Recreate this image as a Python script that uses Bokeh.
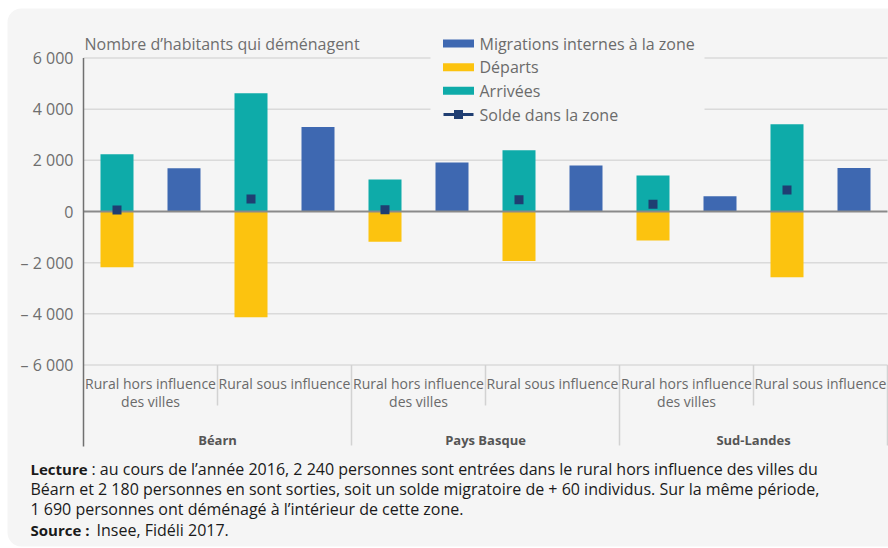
from bokeh.plotting import figure
from bokeh.models import Range1d, BoxAnnotation
from bokeh.core.properties import value
from bokeh.embed import file_html
from bokeh.resources import INLINE

# ---------------- data ----------------
regions = ["Béarn", "Pays Basque", "Sud-Landes"]
zones = ["Rural hors influence\ndes villes", "Rural sous influence"]
arrivees = [2240, 4620, 1250, 2390, 1410, 3410]
departs = [2180, 4130, 1180, 1930, 1130, 2570]
solde = [60, 490, 70, 460, 280, 840]
internes = [1690, 3300, 1920, 1800, 600, 1700]
y_ticks = [6000, 4000, 2000, 0, -2000, -4000, -6000]
y_tick_labels = ["6 000", "4 000", "2 000", "0", "– 2 000", "– 4 000", "– 6 000"]
series_names = ["Migrations internes à la zone", "Départs", "Arrivées", "Solde dans la zone"]
title_text = "Nombre d’habitants qui déménagent"
footer = [
    ("Lecture", ": au cours de l’année 2016, 2 240 personnes sont entrées dans le rural hors influence des villes du"),
    ("", "Béarn et 2 180 personnes en sont sorties, soit un solde migratoire de + 60 individus. Sur la même période,"),
    ("", "1 690 personnes ont déménagé à l’intérieur de cette zone."),
    ("Source :", "Insee, Fidéli 2017."),
]

# ---------------- styles ----------------
C_INT = "#3e68b1"
C_DEP = "#fcc30f"
C_ARR = "#0eaba9"
C_SOL = "#1f3e72"
BG = "#f5f5f5"
FONT = value("Open Sans")

# layout helpers (page pixels -> data units)
W, H = 888, 548
X0, SX = 83.0, 67.0           # page x of x=0, px per slot
Y0, K = 211.0, 307.0 / 12000  # page y of value 0, px per unit


def dx(px):
    return (px - X0) / SX


def dy(py):
    return (Y0 - py) / K


p = figure(width=W, height=H, output_backend="svg", toolbar_location=None,
           x_range=Range1d(dx(0), dx(W)), y_range=Range1d(dy(H), dy(0)),
           x_axis_type=None, y_axis_type=None, min_border=0)
p.grid.visible = False
p.outline_line_color = None
p.background_fill_color = "white"
p.border_fill_color = "white"

p.add_layout(BoxAnnotation(left=dx(7), right=dx(W + 30), top=dy(8), bottom=dy(546),
                           fill_color=BG, fill_alpha=1, line_color=None,
                           border_radius=14, level="underlay"))

n_cat = len(arrivees)
x_end = 2 * n_cat

# gridlines
grid_vals = [v for v in y_ticks if v != 0]
p.segment(x0=[0] * len(grid_vals), x1=[x_end] * len(grid_vals), y0=grid_vals, y1=grid_vals,
          line_color="#dadada", line_width=1.5)

# category separators
short_x = [4 * g + 2 for g in range(len(regions))]
long_x = [4 * (g + 1) for g in range(len(regions))]
p.segment(x0=short_x, x1=short_x, y0=[y_ticks[-1]] * len(short_x), y1=[dy(405)] * len(short_x),
          line_color="#d2d2d2", line_width=1.5)
p.segment(x0=long_x, x1=long_x, y0=[y_ticks[-1]] * len(long_x), y1=[dy(445)] * len(long_x),
          line_color="#d2d2d2", line_width=1.5)

# legend background (masks the gridlines)
p.quad(left=[dx(430)], right=[dx(704)], top=[dy(28)], bottom=[dy(126)],
       fill_color=BG, line_color=None)

# bars
xs_stack = [2 * i + 0.5 for i in range(n_cat)]
xs_int = [2 * i + 1.5 for i in range(n_cat)]
bw = 33 / SX
p.vbar(x=xs_stack, top=arrivees, bottom=0, width=bw, fill_color=C_ARR, line_color=None)
p.vbar(x=xs_stack, top=0, bottom=[-d for d in departs], width=bw, fill_color=C_DEP, line_color=None)
p.vbar(x=xs_int, top=internes, bottom=0, width=bw, fill_color=C_INT, line_color=None)

# zero line and y axis line
p.segment(x0=[0], x1=[x_end], y0=[0], y1=[0], line_color="#8a8a8a", line_width=2)
p.segment(x0=[0], x1=[0], y0=[y_ticks[0]], y1=[dy(446)], line_color="#707070", line_width=1.5)

# solde markers
p.scatter(x=xs_stack, y=solde, marker="square", size=9, fill_color=C_SOL, line_color=None)

# y tick labels
p.text(x=[dx(73)] * len(y_ticks), y=y_ticks, text=y_tick_labels, text_font=FONT,
       text_font_size="16px", text_align="right", text_baseline="middle", text_color="#6e6e6e")

# title
p.text(x=[dx(84)], y=[dy(43)], text=[title_text], text_font=FONT, text_font_size="16px",
       text_align="left", text_baseline="middle", text_color="#6e6e6e")

# category labels
lab_x1, lab_t1, lab_x2, lab_t2 = [], [], [], []
for g in range(len(regions)):
    for z, zl in enumerate(zones):
        c = 2 * g + z
        lines = zl.split("\n")
        lab_x1.append(2 * c + 1)
        lab_t1.append(lines[0])
        if len(lines) > 1:
            lab_x2.append(2 * c + 1)
            lab_t2.append(lines[1])
p.text(x=lab_x1, y=[dy(382.5)] * len(lab_x1), text=lab_t1, text_font=FONT, text_font_size="14px",
       text_align="center", text_baseline="middle", text_color="#6a6a6a")
p.text(x=lab_x2, y=[dy(401.3)] * len(lab_x2), text=lab_t2, text_font=FONT, text_font_size="14px",
       text_align="center", text_baseline="middle", text_color="#6a6a6a")
p.text(x=[4 * g + 2 for g in range(len(regions))], y=[dy(439.5)] * len(regions), text=regions,
       text_font=FONT, text_font_size="13px", text_font_style="bold",
       text_align="center", text_baseline="middle", text_color="#555555")

# legend
leg_y = [dy(43 + 23.67 * i) for i in range(4)]
leg_cols = [C_INT, C_DEP, C_ARR]
p.rect(x=[dx(458)] * 3, y=leg_y[:3], width=31, height=8, width_units="screen", height_units="screen",
       fill_color=leg_cols, line_color=None)
p.segment(x0=[dx(443)], x1=[dx(473)], y0=[leg_y[3]], y1=[leg_y[3]], line_color=C_SOL, line_width=3)
p.scatter(x=[dx(458)], y=[leg_y[3]], marker="square", size=9, fill_color=C_SOL, line_color=None)
p.text(x=[dx(479)] * 4, y=leg_y, text=series_names, text_font=FONT, text_font_size="16px",
       text_align="left", text_baseline="middle", text_color="#6b6b6b")

# footer
f_y = [dy(468.3 + 20.3 * i) for i in range(len(footer))]
bold_t, bold_y, reg_x, reg_t, reg_y = [], [], [], [], []
for (b, r), yy in zip(footer, f_y):
    if b:
        bold_t.append(b)
        bold_y.append(yy)
        reg_x.append(dx(91) if b.startswith("Lecture") else dx(96))
    else:
        reg_x.append(dx(30))
    reg_t.append(r)
    reg_y.append(yy)
p.text(x=[dx(30)] * len(bold_t), y=bold_y, text=bold_t, text_font=FONT, text_font_size="15px",
       text_font_style="bold", text_align="left", text_baseline="middle", text_color="#1a1a1a")
p.text(x=reg_x, y=reg_y, text=reg_t, text_font=FONT, text_font_size="16px",
       text_align="left", text_baseline="middle", text_color="#1a1a1a")

open("out.html", "w").write(file_html(p, INLINE))
